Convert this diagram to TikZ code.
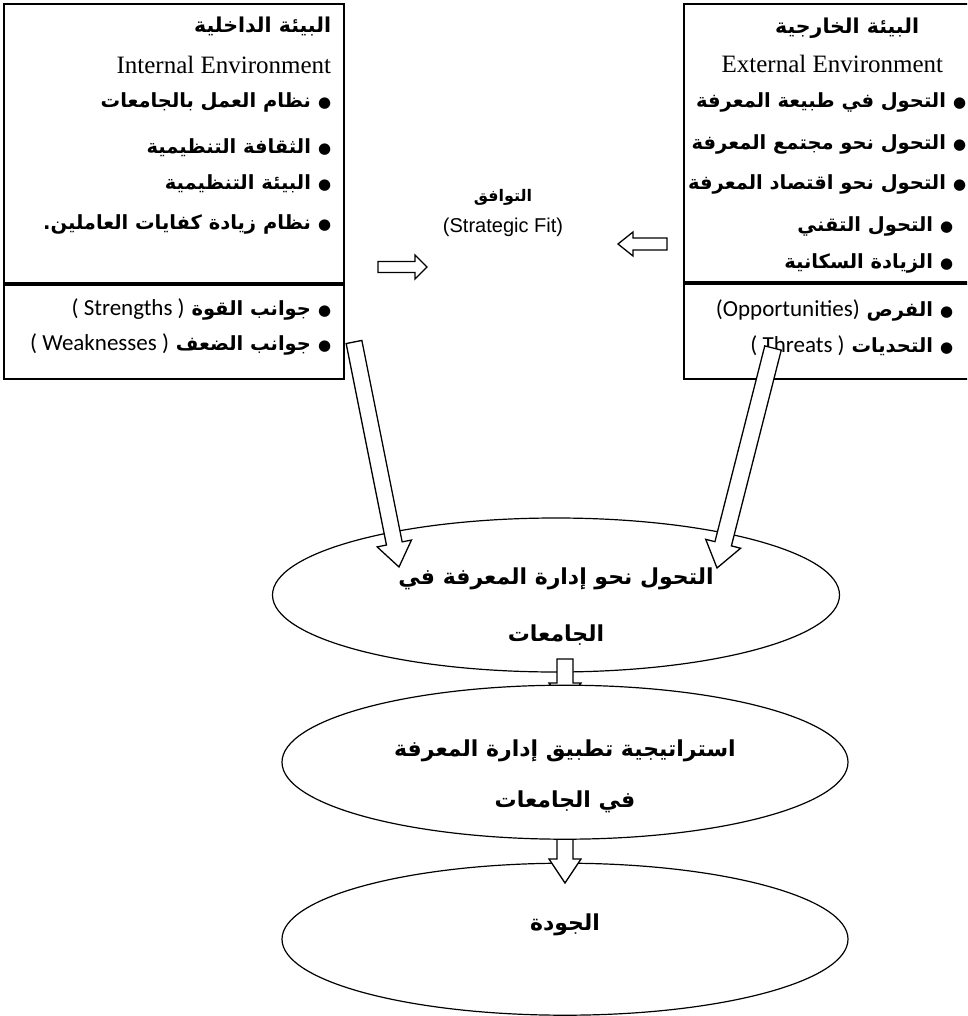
\documentclass[tikz,border=0pt]{standalone}
\usepackage{fontspec}
\setmainfont{Liberation Serif}
\newfontfamily\arabicfont[Script=Arabic]{DejaVu Sans}
\newfontfamily\calibrifont{Carlito}
\newfontfamily\arialfont{Liberation Sans}
\TeXXeTstate=1
\usetikzlibrary{positioning}
\usetikzlibrary{calc}
\usetikzlibrary{shapes.geometric}
\tikzset{x=1pt, y=-1pt,
    envbox/.style={
        draw,
        line width=2.2pt,
        inner xsep=13pt,
        inner ysep=0pt,
        anchor=north west},
    goal/.style={
        ellipse,
        draw,
        fill=white,
        line width=1.2pt,
        inner sep=0pt,
        align=center,
        font=\arabicfont\bfseries\fontsize{22}{24}\selectfont},
    fatarrow/.style={
        draw,
        fill=white,
        line width=1.3pt}}
\newcommand{\arttitle}[1]{{\arabicfont\bfseries\fontsize{20.5}{20}\selectfont\beginR #1\endR}}
\newcommand{\artitem}[1]{\leavevmode\llap{\arabicfont\bfseries\beginR{\fontsize{15}{20}\selectfont ●}\hspace{7pt}#1\endR}}
\newcommand{\latin}[1]{\beginL{\calibrifont\mdseries\fontsize{23}{20}\selectfont #1}\endL}
\newcommand{\blockarrow}[5]{%
    \coordinate (hb) at ($(#2)!#5!(#1)$);
    \draw[fatarrow] ($(#1)!#3!90:(#2)$) -- ($(hb)!#3!90:(#2)$) -- ($(hb)!#4!90:(#2)$) -- (#2)
        -- ($(hb)!#4!-90:(#2)$) -- ($(hb)!#3!-90:(#2)$) -- ($(#1)!#3!-90:(#2)$) -- cycle;}

\begin{document}
\begin{tikzpicture}
    \useasboundingbox (0,0) rectangle (967,1016);
    \clip (0,0) rectangle (967,1016);
    % internal environment
    \node[envbox, minimum width=340pt] (intup) at (3,3) {\begin{minipage}[t][279pt][t]{314pt}
        \raggedleft\fontsize{19.5}{20}\selectfont\lineskiplimit=-100pt
        \rule{0pt}{28.5pt}\arttitle{البيئة الداخلية}\\[20.5pt]
        {\fontsize{25}{20}\selectfont Internal Environment}\\[14pt]
        \artitem{نظام العمل بالجامعات}\\[26pt]
        \artitem{الثقافة التنظيمية}\\[16pt]
        \artitem{البيئة التنظيمية}\\[20pt]
        \artitem{نظام زيادة كفايات العاملين.}
        \end{minipage}};
    \node[envbox, minimum width=340pt, below=0pt of intup] (intdown) {\begin{minipage}[t][94pt][t]{314pt}
        \raggedleft\fontsize{19.5}{20}\selectfont\lineskiplimit=-100pt
        \rule{0pt}{30pt}\artitem{جوانب القوة \latin{( Strengths )}}\\[15pt]
        \artitem{جوانب الضعف \latin{( Weaknesses )}}
        \end{minipage}};
    % external environment
    \node[envbox, inner xsep=7pt, minimum width=289pt] (extup) at (683,3) {\begin{minipage}[t][278pt][t]{275pt}
        \raggedleft\fontsize{19.5}{20}\selectfont\lineskiplimit=-100pt
        \rule{0pt}{29pt}\arttitle{البيئة الخارجية}\kern47pt\\[19pt]
        {\fontsize{25}{20}\selectfont External Environment}\kern23pt\\[15pt]
        \artitem{التحول في طبيعة المعرفة}\\[22pt]
        \artitem{التحول نحو مجتمع المعرفة}\\[20pt]
        \artitem{التحول نحو اقتصاد المعرفة}\\[22pt]
        \artitem{التحول التقني}\kern13pt\\[17pt]
        \artitem{الزيادة السكانية}\kern13pt
        \end{minipage}};
    \node[envbox, inner xsep=7pt, minimum width=289pt, below=0pt of extup] (extdown) {\begin{minipage}[t][95pt][t]{275pt}
        \raggedleft\fontsize{19.5}{20}\selectfont\lineskiplimit=-100pt
        \rule{0pt}{32pt}\artitem{الفرص \latin{(Opportunities)}}\kern13pt\\[16pt]
        \artitem{التحديات \latin{( Threats )}}\kern13pt
        \end{minipage}};
    % strategic fit
    \node[align=center] (fit) at (503,213) {{\arabicfont\bfseries\fontsize{16}{16}\selectfont\beginR التوافق\endR}\\[12pt]
        {\arialfont\fontsize{20}{20}\selectfont (Strategic Fit)}};
    \coordinate (fitin) at (378,267);
    \coordinate (fitinend) at (427,267);
    \blockarrow{fitin}{fitinend}{5.5pt}{12pt}{12pt}
    \coordinate (fitex) at (667,244);
    \coordinate (fitexend) at (618,244);
    \blockarrow{fitex}{fitexend}{6pt}{12pt}{15pt}
    % goals
    \node[goal, minimum width=567pt, minimum height=154pt] (shift) at (556,595)
        {\rule{0pt}{40pt}\beginR التحول نحو إدارة المعرفة في\endR\\[33pt]
         \beginR الجامعات\endR\rule[-5pt]{0pt}{5pt}};
    \node[goal, minimum width=566pt, minimum height=152pt, below=190pt of shift, xshift=9pt] (quality)
        {\rule[-38pt]{0pt}{58pt}\beginR الجودة\endR};
    \coordinate (swot) at (354,342);
    \coordinate (swotend) at (399,567);
    \blockarrow{swot}{swotend}{8pt}{17.5pt}{24pt}
    \coordinate (ot) at (773,348);
    \coordinate (otend) at (717,568);
    \blockarrow{ot}{otend}{8.5pt}{18pt}{25pt}
    \coordinate (down) at (565,659);
    \coordinate (downend) at (565,705);
    \blockarrow{down}{downend}{8pt}{16pt}{22pt}
    \coordinate (up) at (565,820);
    \coordinate (upend) at (565,883);
    \blockarrow{up}{upend}{8pt}{16pt}{24pt}
    \node[goal, minimum width=566pt, minimum height=154pt, below=12pt of shift, xshift=9pt] (strategy)
        {\rule{0pt}{48pt}\beginR استراتيجية تطبيق إدارة المعرفة\endR\\[27pt]
         \beginR في الجامعات\endR\rule[-8pt]{0pt}{8pt}};
\end{tikzpicture}
\end{document}
